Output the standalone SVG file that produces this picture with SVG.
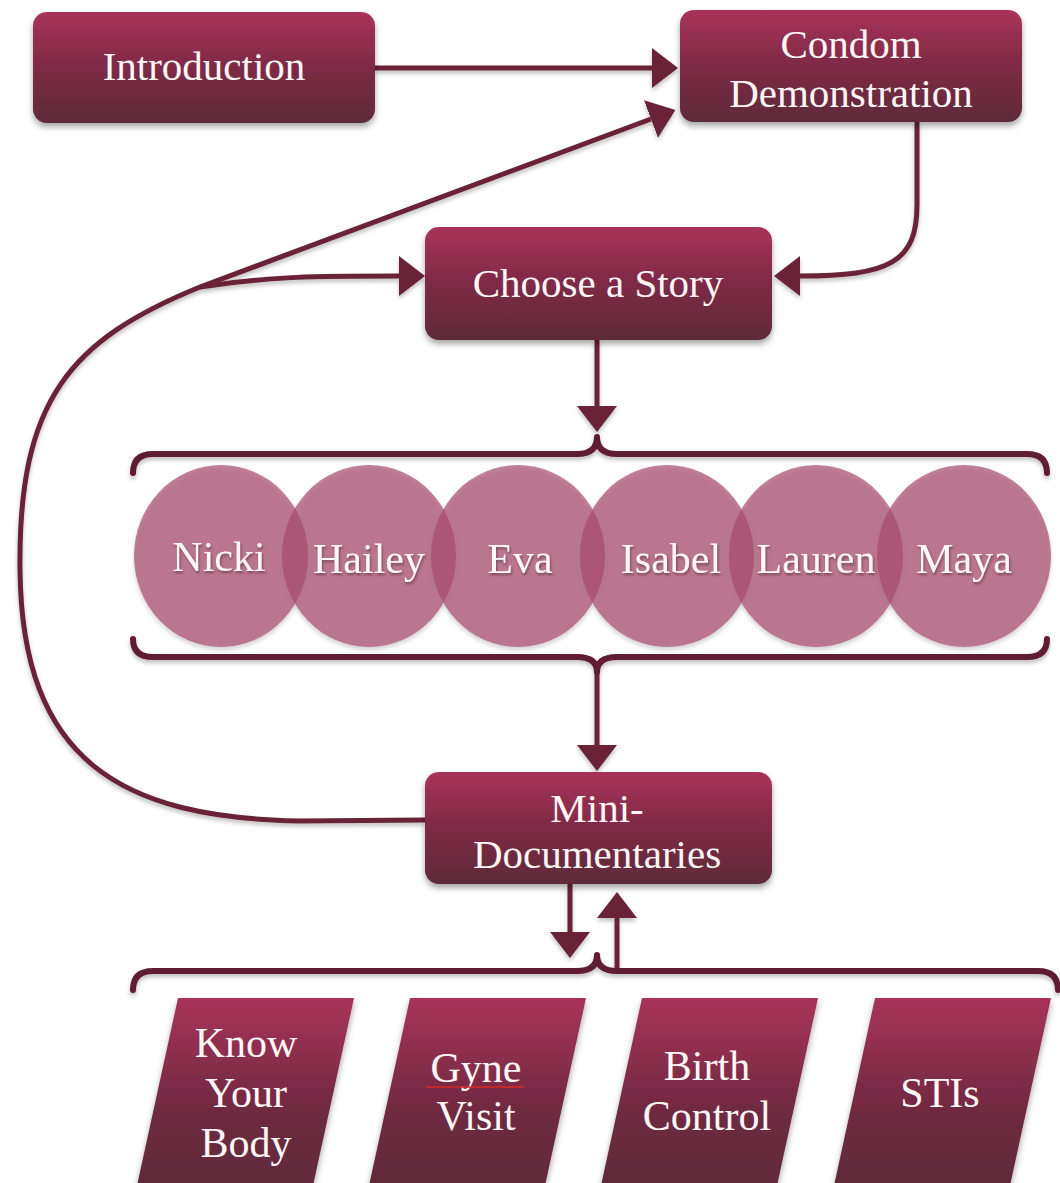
<svg xmlns="http://www.w3.org/2000/svg" width="1060" height="1183" viewBox="0 0 1060 1183">
<style>
.box{fill:url(#boxGrad);}
.para{fill:url(#paraGrad);}
.circ{fill:rgb(166,76,108);fill-opacity:0.7;}
.lbl{font-family:"Liberation Serif","Times New Roman",serif;fill:#fff6f8;text-anchor:middle;}
.bt{font-size:41px;}
.ct{font-size:42px;}
.pt{font-size:42px;}
.con{fill:none;stroke:#6a2238;stroke-width:5;}
.brace{fill:none;stroke:#5e1f33;stroke-width:6;stroke-linejoin:round;stroke-linecap:round;}
</style>
<defs>
<linearGradient id="boxGrad" x1="0" y1="0" x2="0" y2="1">
<stop offset="0" stop-color="#a8325a"/>
<stop offset="0.55" stop-color="#7a2a44"/>
<stop offset="1" stop-color="#5f2a3a"/>
</linearGradient>
<linearGradient id="paraGrad" x1="0" y1="0" x2="0" y2="1">
<stop offset="0" stop-color="#a8325a"/>
<stop offset="0.6" stop-color="#6e2a40"/>
<stop offset="1" stop-color="#5f2a3a"/>
</linearGradient>
<filter id="shadow" x="-10%" y="-10%" width="120%" height="130%">
<feDropShadow dx="0" dy="4" stdDeviation="3" flood-color="#000" flood-opacity="0.35"/>
</filter>
<filter id="lshadow" x="-5%" y="-5%" width="110%" height="120%">
<feDropShadow dx="0" dy="3" stdDeviation="2" flood-color="#000" flood-opacity="0.25"/>
</filter>
<filter id="tshadow" x="-10%" y="-20%" width="120%" height="140%">
<feDropShadow dx="1" dy="2" stdDeviation="1" flood-color="#3a0a1a" flood-opacity="0.5"/>
</filter>
<marker id="arr" viewBox="0 -20 26 40" refX="0" refY="0" markerWidth="26" markerHeight="40" markerUnits="userSpaceOnUse" orient="auto">
<path d="M0,-20 L26,0 L0,20 Z" fill="#6a2238"/>
</marker>
</defs>

<g id="connectors" filter="url(#lshadow)">
<path class="con" d="M375 68 L652 68" marker-end="url(#arr)"/>
<path class="con" d="M425 820 L300 821 C120 818 22 760 20 570 C18 400 70 340 200 287 L651 119" marker-end="url(#arr)"/>
<path class="con" d="M200 287 C270 276 320 276 399 276" marker-end="url(#arr)"/>
<path class="con" d="M917 122 L917 205 C917 262 890 276 800 276" marker-end="url(#arr)"/>
<path class="con" d="M597 340 L597 406" marker-end="url(#arr)"/>
<path class="con" d="M597 672 L597 745" marker-end="url(#arr)"/>
<path class="con" d="M570 884 L570 932" marker-end="url(#arr)"/>
<path class="con" d="M617 971 L617 918" marker-end="url(#arr)"/>
<path class="brace" d="M133 473 Q133 454 153 454 L577 454 Q597 454 597 437 Q597 454 617 454 L1027 454 Q1047 454 1047 473"/>
<path class="brace" d="M133 639 Q133 657 153 657 L577 657 Q597 657 597 672 Q597 657 617 657 L1027 657 Q1047 657 1047 639"/>
<path class="brace" d="M133 990 Q133 971 153 971 L577 971 Q597 971 597 955 Q597 971 617 971 L1038 971 Q1058 971 1058 990"/>
</g>

<g id="introduction">
<rect class="box" x="33" y="12" width="342" height="111" rx="14" filter="url(#shadow)"/>
<text class="lbl bt" x="204" y="80">Introduction</text>
</g>
<g id="condom-demonstration">
<rect class="box" x="680" y="10" width="342" height="112" rx="14" filter="url(#shadow)"/>
<text class="lbl bt" x="851" y="58">Condom</text>
<text class="lbl bt" x="851" y="107">Demonstration</text>
</g>
<g id="choose-a-story">
<rect class="box" x="425" y="227" width="347" height="113" rx="14" filter="url(#shadow)"/>
<text class="lbl bt" x="598" y="297">Choose a Story</text>
</g>
<g id="mini-documentaries">
<rect class="box" x="425" y="772" width="347" height="112" rx="14" filter="url(#shadow)"/>
<text class="lbl bt" x="597" y="822">Mini-</text>
<text class="lbl bt" x="597" y="868">Documentaries</text>
</g>

<g id="stories" filter="url(#lshadow)">
<g id="nicki"><ellipse class="circ" cx="221" cy="556" rx="87" ry="91"/></g>
<g id="hailey"><ellipse class="circ" cx="369" cy="556" rx="87" ry="91"/></g>
<g id="eva"><ellipse class="circ" cx="518" cy="556" rx="87" ry="91"/></g>
<g id="isabel"><ellipse class="circ" cx="667" cy="556" rx="87" ry="91"/></g>
<g id="lauren"><ellipse class="circ" cx="816" cy="556" rx="87" ry="91"/></g>
<g id="maya"><ellipse class="circ" cx="964" cy="556" rx="87" ry="91"/></g>
</g>
<g id="story-labels" filter="url(#tshadow)">
<text class="lbl ct" x="219" y="571">Nicki</text>
<text class="lbl ct" x="369" y="573">Hailey</text>
<text class="lbl ct" x="520" y="573">Eva</text>
<text class="lbl ct" x="671" y="573">Isabel</text>
<text class="lbl ct" x="816" y="573">Lauren</text>
<text class="lbl ct" x="964" y="573">Maya</text>
</g>

<g id="know-your-body">
<polygon class="para" points="178,998 354,998 312,1190 136,1190" filter="url(#shadow)"/>
<text class="lbl pt" x="246" y="1057">Know</text>
<text class="lbl pt" x="246" y="1107">Your</text>
<text class="lbl pt" x="246" y="1157">Body</text>
</g>
<g id="gyne-visit">
<polygon class="para" points="410,998 586,998 544,1190 368,1190" filter="url(#shadow)"/>
<text class="lbl pt" x="476" y="1082">Gyne</text>
<text class="lbl pt" x="476" y="1130">Visit</text>
<path d="M426 1087 L524 1087" stroke="#d42a2a" stroke-width="1.5" fill="none"/>
</g>
<g id="birth-control">
<polygon class="para" points="642,998 818,998 776,1190 600,1190" filter="url(#shadow)"/>
<text class="lbl pt" x="707" y="1080">Birth</text>
<text class="lbl pt" x="707" y="1130">Control</text>
</g>
<g id="stis">
<polygon class="para" points="875,998 1051,998 1009,1190 833,1190" filter="url(#shadow)"/>
<text class="lbl pt" x="940" y="1107">STIs</text>
</g>
</svg>
